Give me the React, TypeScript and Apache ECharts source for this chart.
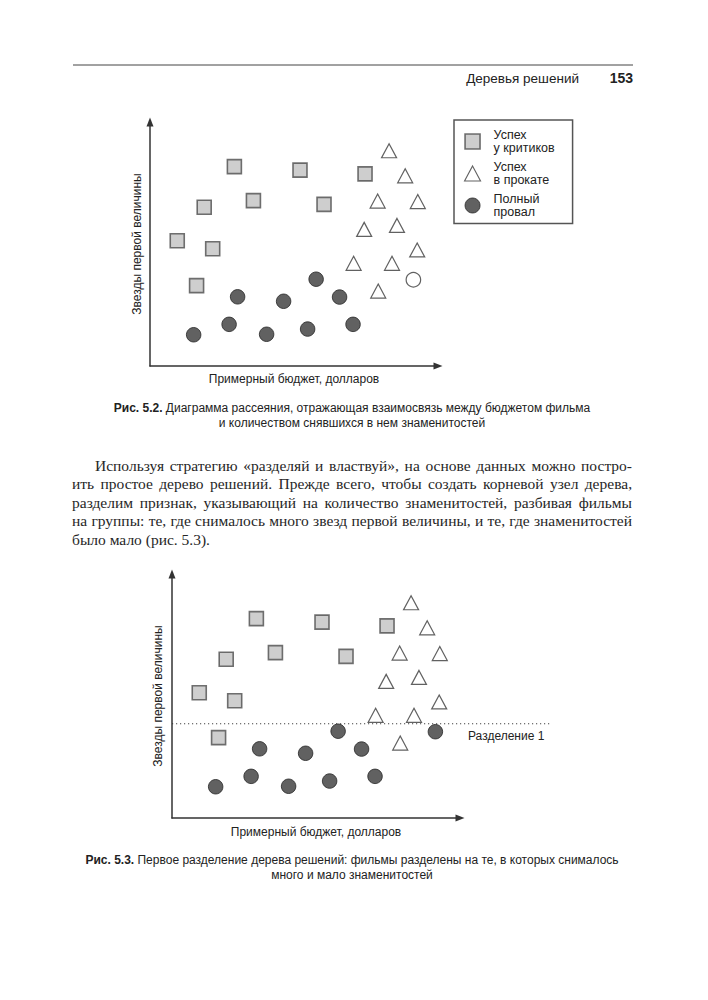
import React, { useEffect, useRef } from 'react';
import * as echarts from 'echarts';

// ---------- data (arbitrary units) ----------
const criticsSuccess: [number, number][] = [
  [28.8, 80.4], [51.2, 79.0], [73.4, 77.5], [35.3, 66.7], [59.4, 65.2],
  [18.5, 64.0], [9.3, 50.5], [21.4, 47.3], [15.9, 32.4],
];
const boxOfficeSuccess: [number, number][] = [
  [81.6, 86.8], [87.1, 76.7], [77.7, 66.5], [91.4, 66.3], [73.1, 55.1],
  [84.3, 56.7], [91.2, 46.8], [69.5, 41.4], [82.6, 41.4], [77.9, 30.2],
];
const totalFailure: [number, number][] = [
  [56.7, 35.0], [29.9, 27.9], [45.6, 26.1], [64.7, 27.8], [14.9, 12.6],
  [27.0, 16.8], [39.8, 12.8], [53.8, 14.9], [69.3, 16.8],
];
// the failure drawn as an outline in Fig. 5.2 and filled in Fig. 5.3
const borderlineFailure: [number, number][] = [[89.9, 34.8]];
const splitThreshold = 38;

const seriesNames = ['Успех\nу критиков', 'Успех\nв прокате', 'Полный\nпровал'];
const xAxisName = 'Примерный бюджет, долларов';
const yAxisName = 'Звезды первой величины';
const splitLabel = 'Разделение 1';

const pageHeader = 'Деревья решений';
const pageNumber = '153';
const caption1Label = 'Рис. 5.2.';
const caption1Lines = [
  'Диаграмма рассеяния, отражающая взаимосвязь между бюджетом фильма',
  'и количеством снявшихся в нем знаменитостей',
];
const caption2Label = 'Рис. 5.3.';
const caption2Lines = [
  'Первое разделение дерева решений: фильмы разделены на те, в которых снималось',
  'много и мало знаменитостей',
];
const bodyLines = [
  'Используя стратегию «разделяй и властвуй», на основе данных можно постро-',
  'ить простое дерево решений. Прежде всего, чтобы создать корневой узел дерева,',
  'разделим признак, указывающий на количество знаменитостей, разбивая фильмы',
  'на группы: те, где снималось много звезд первой величины, и те, где знаменитостей',
  'было мало (рис. 5.3).',
];

// ---------- styles ----------
const SANS = '"Liberation Sans", Arial, sans-serif';
const SERIF_NAME = 'Liberation Serif';
const SERIF = '"Liberation Serif", "Times New Roman", serif';
const INK = '#222';
const X_MAX = 98.3;
const Y_MAX = 98.4;

const squareStyle = { color: '#c2c2c2', borderColor: '#4d4d4d', borderWidth: 1.6 };
const triangleStyle = { color: '#ffffff', borderColor: '#3a3a3a', borderWidth: 1.2 };
const circleStyle = { color: '#3a3a3a', borderColor: '#242424', borderWidth: 1 };
const hollowStyle = { color: '#ffffff', borderColor: '#3a3a3a', borderWidth: 1.2 };

function axisLine() {
  return {
    show: true,
    onZero: false,
    lineStyle: { color: '#333', width: 1.5 },
    symbol: ['none', 'triangle'],
    symbolSize: [7, 9],
  };
}

function makeX(gridIndex: number, nameGap: number) {
  return {
    type: 'value', gridIndex, min: 0, max: X_MAX,
    axisLine: axisLine(), axisTick: { show: false }, axisLabel: { show: false },
    splitLine: { show: false },
    name: xAxisName, nameLocation: 'middle', nameGap,
    nameTextStyle: { fontFamily: SANS, fontSize: 12, color: INK },
  };
}
function makeY(gridIndex: number, nameGap: number) {
  return {
    type: 'value', gridIndex, min: 0, max: Y_MAX,
    axisLine: axisLine(), axisTick: { show: false }, axisLabel: { show: false },
    splitLine: { show: false },
    name: yAxisName, nameLocation: 'middle', nameGap,
    nameTextStyle: { fontFamily: SANS, fontSize: 12, color: INK },
  };
}

function makeSeries(idx: number, hollowOutlier: boolean) {
  return [
    {
      name: seriesNames[0], type: 'scatter', xAxisIndex: idx, yAxisIndex: idx,
      symbol: 'rect', symbolSize: 14, itemStyle: squareStyle, data: criticsSuccess,
      emphasis: { disabled: true },
    },
    {
      name: seriesNames[1], type: 'scatter', xAxisIndex: idx, yAxisIndex: idx,
      symbol: 'triangle', symbolSize: [15, 14], itemStyle: triangleStyle, data: boxOfficeSuccess,
      emphasis: { disabled: true },
    },
    {
      name: seriesNames[2], type: 'scatter', xAxisIndex: idx, yAxisIndex: idx,
      symbol: 'circle', symbolSize: 14.5, itemStyle: circleStyle,
      data: [
        ...totalFailure,
        ...borderlineFailure.map((p) => (hollowOutlier ? { value: p, itemStyle: hollowStyle } : p)),
      ],
      emphasis: { disabled: true },
    },
  ];
}

function textEl(x: number, y: number, text: string, opts: any = {}) {
  const align = opts.align || 'left';
  return {
    type: 'text', x, y, silent: true,
    style: {
      text,
      fill: opts.fill || INK,
      fontSize: opts.fontSize || 12,
      fontFamily: opts.fontFamily || SANS,
      fontWeight: opts.fontWeight || 'normal',
      align, textAlign: align,
      verticalAlign: 'middle', textVerticalAlign: 'middle',
      rich: opts.rich,
    },
  };
}

function justifiedBody(left: number, right: number, indent: number, top: number, gapY: number, size: number) {
  const ctx = document.createElement('canvas').getContext('2d') as CanvasRenderingContext2D;
  ctx.font = `${size}px "${SERIF_NAME}"`;
  const els: any[] = [];
  const spaceW = ctx.measureText(' ').width;
  bodyLines.forEach((line, i) => {
    const words = line.split(' ');
    const x0 = i === 0 ? left + indent : left;
    const y = top + i * gapY;
    const widths = words.map((w) => ctx.measureText(w).width);
    const total = widths.reduce((a, b) => a + b, 0);
    const last = i === bodyLines.length - 1;
    const gap = last || words.length < 2 ? spaceW : (right - x0 - total) / (words.length - 1);
    let x = x0;
    words.forEach((w, j) => {
      els.push(textEl(x, y, w, { fontSize: size, fontFamily: SERIF, fill: '#262626' }));
      x += widths[j] + gap;
    });
  });
  return els;
}

function caption(label: string, lines: string[], y: number) {
  const rich = { b: { fontWeight: 'bold', fontSize: 12, fontFamily: SANS, fill: INK, color: INK } };
  return [
    textEl(352, y, `{b|${label}} ${lines[0]}`, { align: 'center', rich }),
    textEl(352, y + 14.5, lines[1], { align: 'center' }),
  ];
}

export default function App() {
  const ref = useRef<HTMLDivElement>(null);
  useEffect(() => {
    if (!ref.current) return;
    const chart = echarts.init(ref.current, undefined, { renderer: 'svg' });
    const option: any = {
      animation: false,
      backgroundColor: '#ffffff',
      grid: [
        { left: 150, top: 122, width: 288, height: 244 },
        { left: 172, top: 574, width: 288, height: 244 },
      ],
      xAxis: [makeX(0, 7), makeX(1, 8)],
      yAxis: [makeY(0, 7), makeY(1, 8)],
      legend: {
        show: true,
        orient: 'vertical',
        left: 454,
        top: 120,
        padding: [8, 18, 4.5, 10],
        itemWidth: 32,
        itemHeight: 15,
        itemGap: 5,
        borderColor: '#555',
        borderWidth: 1.5,
        selectedMode: false,
        textStyle: { fontFamily: SANS, fontSize: 12.5, lineHeight: 13.5, color: INK },
        data: [
          { name: seriesNames[0], icon: 'path://M0,0H15V15H0Z', itemStyle: { borderWidth: 1.6 } },
          { name: seriesNames[1], icon: 'path://M8,0L16,15L0,15Z', itemStyle: { borderWidth: 1.1 } },
          { name: seriesNames[2], icon: 'circle', itemStyle: { borderWidth: 1 } },
        ],
      },
      series: [...makeSeries(0, true), ...makeSeries(1, false)],
    };
    chart.setOption(option);

    const p = chart.convertToPixel({ xAxisIndex: 1, yAxisIndex: 1 } as any, [0, splitThreshold]) as number[];
    const graphics: any[] = [
      { type: 'line', silent: true, shape: { x1: 73, y1: 65, x2: 633, y2: 65 }, style: { stroke: '#444', lineWidth: 1 } },
      textEl(579, 78, pageHeader, { align: 'right', fontSize: 13.5 }),
      textEl(633, 78, pageNumber, { align: 'right', fontSize: 14, fontWeight: 'bold' }),
      ...caption(caption1Label, caption1Lines, 408),
      ...justifiedBody(72, 632, 23, 465, 18.6, 15.5),
      ...caption(caption2Label, caption2Lines, 860),
    ];
    if (p && isFinite(p[0]) && isFinite(p[1])) {
      graphics.push({
        type: 'line', silent: true,
        shape: { x1: p[0], y1: p[1], x2: 550, y2: p[1] },
        style: { stroke: '#444', lineWidth: 1.2, lineDash: [1.2, 2.8] },
      });
      graphics.push(textEl(468, p[1] + 12.5, splitLabel, {}));
    }
    chart.setOption({ graphic: { elements: graphics } });

    return () => chart.dispose();
  }, []);
  return (
    <div
      ref={ref}
      style={{ position: 'absolute', left: 0, top: 0, width: 708, height: 1000, background: '#fff' }}
    />
  );
}
